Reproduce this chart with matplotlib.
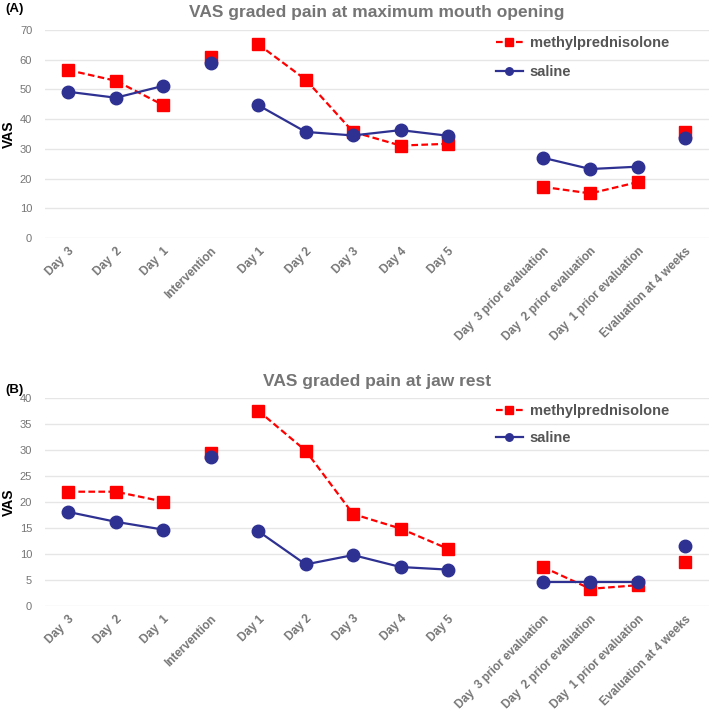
import numpy as np
import matplotlib
matplotlib.use("Agg")
import matplotlib.pyplot as plt

plt.rcParams['font.family'] = ['Liberation Sans', 'DejaVu Sans']

categories = ['Day  3', 'Day  2', 'Day  1', 'Intervention', 'Day 1', 'Day 2', 'Day 3',
              'Day 4', 'Day 5', '', 'Day  3 prior evaluation', 'Day  2 prior evaluation',
              'Day  1 prior evaluation', 'Evaluation at 4 weeks']
# which connected piece each category belongs to (-1 = empty slot)
segment = [0, 0, 0, 1, 2, 2, 2, 2, 2, -1, 3, 3, 3, 4]

a_methyl = [56.5, 52.9, 44.7, 61.0, 65.2, 53.3, 35.7, 31.1, 31.7, np.nan, 17.2, 15.0, 18.8, 35.6]
a_saline = [49.2, 47.2, 51.2, 58.8, 44.7, 35.7, 34.5, 36.3, 34.4, np.nan, 27.0, 23.2, 24.0, 33.6]
b_methyl = [22.0, 22.0, 20.1, 29.5, 37.6, 29.9, 17.7, 14.9, 11.0, np.nan, 7.5, 3.3, 4.0, 8.5]
b_saline = [18.1, 16.2, 14.7, 28.7, 14.4, 8.0, 9.8, 7.5, 7.0, np.nan, 4.7, 4.7, 4.7, 11.5]

red = '#ff0000'
navy = '#2e3192'
grey = '#757575'


def plot_series(ax, vals, color, marker, ls, ms, label):
    x = np.arange(len(vals))
    seg = np.array(segment)
    first = True
    for s in sorted(set(segment)):
        if s < 0:
            continue
        idx = seg == s
        ax.plot(x[idx], np.array(vals)[idx], color=color, marker=marker, ls=ls, lw=1.6,
                ms=ms, label=label if first else None, zorder=3)
        first = False


def draw_panel(ax, methyl, saline, title, ymax, step, tag, tag_y, spacing):
    plot_series(ax, methyl, red, 's', (0, (3, 1.5)), 9, 'methylprednisolone')
    plot_series(ax, saline, navy, 'o', '-', 9, 'saline')
    ax.set_xlim(-0.5, len(categories) - 0.5)
    ax.set_ylim(0, ymax)
    ax.set_yticks(np.arange(0, ymax + 1, step))
    ax.set_xticks(np.arange(len(categories)))
    ax.set_xticklabels(categories, rotation=45, ha='right', rotation_mode='anchor',
                       fontsize=8.5, color=grey, fontweight='bold')
    ax.tick_params(axis='y', labelsize=8, labelcolor=grey, length=0, pad=9)
    ax.tick_params(axis='x', length=0, pad=5)
    ax.grid(axis='y', color='#e6e6e6', lw=1)
    ax.set_axisbelow(True)
    for sp in ax.spines.values():
        sp.set_visible(False)
    ax.set_ylabel('VAS', fontweight='bold', fontsize=10)
    ax.yaxis.set_label_coords(-0.044, 0.5)
    ax.set_title(title, color=grey, fontweight='bold', fontsize=12.5, pad=9)
    ax.legend(loc='upper left', bbox_to_anchor=(0.66, 1.035), frameon=False,
              handlelength=1.8, handletextpad=0.5, labelspacing=spacing, markerscale=0.6,
              prop={'weight': 'bold', 'size': 10.5}, labelcolor='#555555')
    ax.figure.text(0.008, tag_y, tag, fontweight='bold', fontsize=9.5, va='center')


fig = plt.figure(figsize=(7.09, 7.14), dpi=100)
ax1 = fig.add_axes([0.063, 0.6667, 0.937, 0.2913])
ax2 = fig.add_axes([0.063, 0.1513, 0.937, 0.2910])

draw_panel(ax1, a_methyl, a_saline, 'VAS graded pain at maximum mouth opening', 70, 10, '(A)',
           1 - 9 / 714, 1.05)
draw_panel(ax2, b_methyl, b_saline, 'VAS graded pain at jaw rest', 40, 5, '(B)',
           1 - 390 / 714, 0.9)

fig.savefig('out.png', dpi=100)
